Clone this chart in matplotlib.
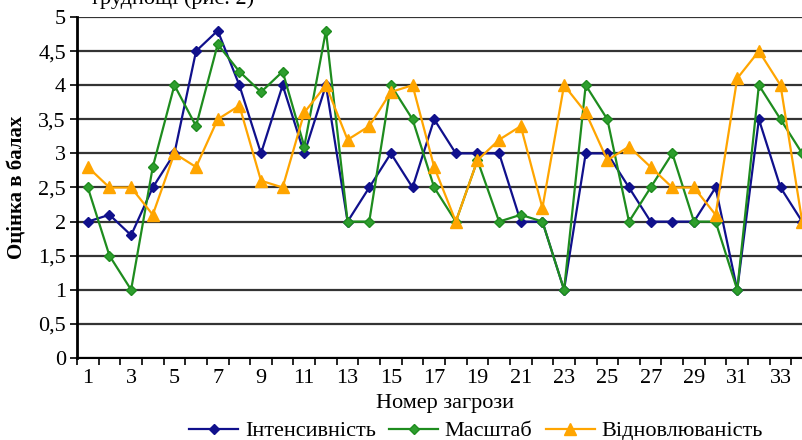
import numpy as np
import matplotlib
matplotlib.use("Agg")
import matplotlib.pyplot as plt
from matplotlib.ticker import MultipleLocator, FuncFormatter

plt.rcParams['font.family'] = ['Liberation Serif', 'DejaVu Serif']

# --- дані ---
threat_no = list(range(1, 35))
intensity = [2, 2.1, 1.8, 2.5, 3, 4.5, 4.8, 4, 3, 4, 3, 4, 2, 2.5, 3, 2.5, 3.5,
             3, 3, 3, 2, 2, 1, 3, 3, 2.5, 2, 2, 2, 2.5, 1, 3.5, 2.5, 2]
scale = [2.5, 1.5, 1, 2.8, 4, 3.4, 4.6, 4.2, 3.9, 4.2, 3.1, 4.8, 2, 2, 4, 3.5, 2.5,
         2, 2.9, 2, 2.1, 2, 1, 4, 3.5, 2, 2.5, 3, 2, 2, 1, 4, 3.5, 3]
recovery = [2.8, 2.5, 2.5, 2.1, 3, 2.8, 3.5, 3.7, 2.6, 2.5, 3.6, 4, 3.2, 3.4, 3.9, 4, 2.8,
            2, 2.9, 3.2, 3.4, 2.2, 4, 3.6, 2.9, 3.1, 2.8, 2.5, 2.5, 2.1, 4.1, 4.5, 4, 2]
labels = ["Інтенсивність", "Масштаб", "Відновлюваність"]

fig = plt.figure(figsize=(8.03, 4.40), dpi=100)
# область графіка виходить за правий край (як у вихідному зображенні)
ax = fig.add_axes([77 / 803, 82 / 440, 736 / 803, 341 / 440])

ax.plot(threat_no, intensity, color='#10108C', lw=1.6, marker='D', ms=5.5, label=labels[0])
ax.plot(threat_no, scale, color='#1E8C1E', lw=1.6, marker='D', ms=5,
        markerfacecolor='#2E9E2E', label=labels[1])
ax.plot(threat_no, recovery, color='#FFA500', lw=1.6, marker='^', ms=8.5, label=labels[2])

ax.set_xlim(0.5, 34.5)
ax.set_ylim(0, 5)
ax.yaxis.set_major_locator(MultipleLocator(0.5))
ax.yaxis.set_major_formatter(FuncFormatter(lambda v, p: ('%g' % v).replace('.', ',')))
ax.set_xticks(range(1, 35, 2))
ax.set_xticks(np.arange(0.5, 35, 1), minor=True)
ax.tick_params(axis='x', which='major', length=0, labelsize=16, pad=8)
ax.tick_params(axis='x', which='minor', length=5, width=1.2, direction='out')
ax.tick_params(axis='y', length=5, width=1.2, labelsize=16, pad=3)

ax.grid(axis='y', color='#333333', lw=1.6)
ax.set_axisbelow(True)
for s in ['top', 'right']:
    ax.spines[s].set_visible(False)
ax.spines['left'].set_linewidth(2)
ax.spines['bottom'].set_linewidth(1.5)

ax.set_ylabel("Оцінка в балах", fontsize=15, fontweight='bold', labelpad=8)
ax.set_xlabel("Номер загрози", fontsize=16, labelpad=0)
ax.xaxis.set_label_coords(368 / 736, -36 / 341)

fig.legend(loc='center', bbox_to_anchor=(476 / 803, 1 - 431 / 440), ncol=3, frameon=False,
           fontsize=16, handlelength=2.2, handletextpad=0.3, columnspacing=0.6,
           borderaxespad=0)

# обрізаний рядок тексту над рисунком (у джерелі видно лише нижню частину)
fig.text(90 / 803, 1 - 4 / 440, "труднощі (рис. 2)", fontsize=16, va='baseline', ha='left')

fig.savefig("out.png", dpi=100)
